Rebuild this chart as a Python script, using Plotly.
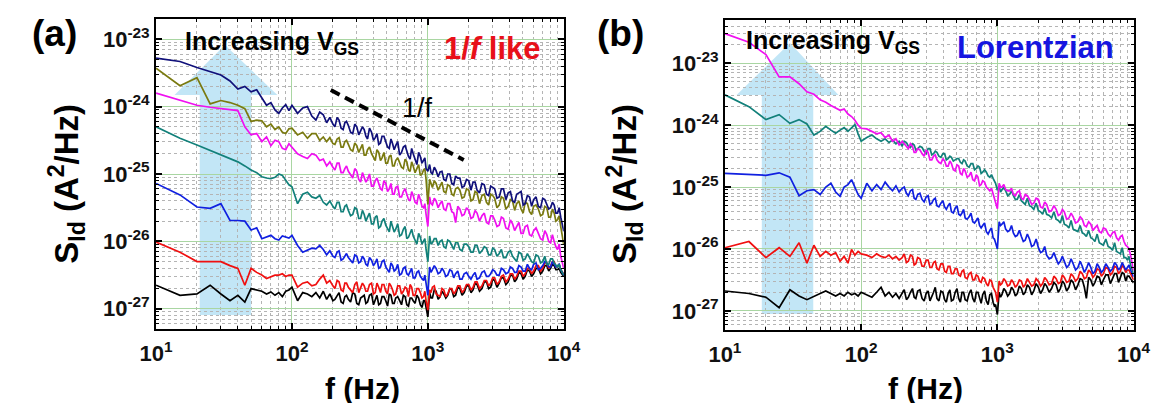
import plotly.graph_objects as go

# Frequency grid (Hz), shared by every spectrum
FREQ = [10, 15, 20, 25, 30, 35, 40, 45, 50, 55, 60, 65, 70, 75, 80, 85, 90, 95, 100,
        110, 120, 130, 140, 150, 160, 170, 180, 190, 200,
        215, 230, 245, 260, 280, 300, 320, 340, 360, 385, 410, 435, 460, 490, 520, 550, 580,
        620, 660, 700, 740, 780, 830, 880, 930, 970, 1000,
        1030, 1080, 1150, 1230, 1310, 1400, 1500, 1600, 1720, 1850, 2000, 2150, 2300, 2500,
        2700, 2900, 3100, 3350, 3600, 3900, 4200, 4500, 4850, 5200, 5600, 6000, 6500, 7000,
        7500, 8000, 8500, 9000, 9500, 10000]
# Extra frequencies in the dense (noisy) part of the spectra
FREQ2 = [207, 222, 238, 252, 270, 290, 310, 330, 350, 372,
         398, 422, 448, 475, 505, 535, 565, 600, 640, 680,
         720, 760, 805, 855, 905, 950,
         1055, 1115, 1190, 1270, 1355, 1450, 1550, 1660, 1785, 1925,
         2075, 2225, 2400, 2600, 2800, 3000, 3225, 3475, 3750, 4050,
         4350, 4675, 5025, 5400, 5800, 6250, 6750, 7250, 7750, 8250,
         8750, 9250]

# ---- Panel (a): log10(S_Id) ----
A_NAVY = [-23.28, -23.33, -23.42, -23.48, -23.53, -23.62, -23.74, -23.70, -23.78, -23.75, -23.86, -23.98, -23.94, -24.05, -24.10, -24.02, -23.97, -24.06, -23.98,
          -24.10, -24.02, -24.00, -24.14, -24.20, -24.08, -24.12, -24.24, -24.16, -24.26,
          -24.16, -24.32, -24.24, -24.28, -24.40, -24.30, -24.36, -24.34, -24.48, -24.38, -24.46, -24.56, -24.44, -24.52, -24.62, -24.55, -24.58, -24.72, -24.60, -24.66, -24.78, -24.70, -24.86, -24.74, -24.80, -24.92, -24.96,
          -24.86, -25.00, -24.95, -24.97, -25.08, -25.00, -25.14, -25.03, -25.06, -25.18, -25.10, -25.12, -25.24, -25.14, -25.30, -25.18, -25.22, -25.34, -25.22, -25.28, -25.40, -25.30, -25.26, -25.44, -25.34, -25.38, -25.48, -25.36, -25.44, -25.50, -25.46, -25.58, -25.64, -25.85]
A_NAVY_2 = [-24.30, -24.20, -24.34, -24.22, -24.38, -24.26, -24.42, -24.30, -24.44, -24.32,
            -24.50, -24.40, -24.54, -24.44, -24.60, -24.48, -24.64, -24.52, -24.68, -24.58,
            -24.74, -24.62, -24.80, -24.68, -24.84, -24.76,
            -24.98, -24.90, -25.04, -24.96, -25.10, -25.00, -25.16, -25.06, -25.20, -25.08,
            -25.24, -25.12, -25.28, -25.16, -25.32, -25.20, -25.36, -25.22, -25.38, -25.26,
            -25.42, -25.28, -25.46, -25.32, -25.48, -25.34, -25.50, -25.38, -25.52, -25.42,
            -25.58, -25.50]
A_OLIVE = [-23.43, -23.69, -23.57, -23.96, -23.91, -23.94, -23.98, -24.03, -24.22, -24.20, -24.21, -24.30, -24.26, -24.34, -24.30, -24.38, -24.40, -24.33, -24.32,
           -24.42, -24.38, -24.47, -24.40, -24.40, -24.50, -24.45, -24.52, -24.46, -24.55,
           -24.48, -24.60, -24.52, -24.56, -24.66, -24.58, -24.62, -24.72, -24.64, -24.70, -24.80, -24.68, -24.76, -24.84, -24.74, -24.88, -24.80, -24.84, -24.92, -24.82, -24.96, -24.88, -24.92, -25.02, -24.94, -25.08, -25.45,
           -25.08, -25.20, -25.14, -25.18, -25.26, -25.16, -25.30, -25.22, -25.24, -25.34, -25.24, -25.38, -25.28, -25.32, -25.42, -25.30, -25.36, -25.46, -25.36, -25.48, -25.40, -25.44, -25.52, -25.42, -25.56, -25.48, -25.52, -25.60, -25.50, -25.64, -25.58, -25.68, -25.78, -26.05]
A_OLIVE_2 = [-24.56, -24.46, -24.60, -24.50, -24.64, -24.54, -24.68, -24.56, -24.72, -24.60,
             -24.76, -24.64, -24.80, -24.68, -24.84, -24.72, -24.88, -24.76, -24.90, -24.78,
             -24.94, -24.82, -24.98, -24.86, -25.00, -24.92,
             -25.16, -25.10, -25.24, -25.12, -25.28, -25.18, -25.32, -25.20, -25.36, -25.22,
             -25.40, -25.26, -25.44, -25.30, -25.46, -25.32, -25.50, -25.34, -25.52, -25.38,
             -25.54, -25.40, -25.58, -25.44, -25.60, -25.46, -25.62, -25.48, -25.64, -25.52,
             -25.70, -25.62]
A_MAGENTA = [-23.80, -23.90, -23.98, -24.01, -24.03, -24.04, -24.06, -24.30, -24.42, -24.40, -24.52, -24.45, -24.58, -24.50, -24.52, -24.62, -24.64, -24.55, -24.60,
             -24.70, -24.74, -24.77, -24.70, -24.72, -24.80, -24.78, -24.88, -24.82, -24.90,
             -24.84, -24.98, -24.92, -24.96, -25.06, -24.96, -25.12, -25.04, -25.08, -25.18, -25.10, -25.14, -25.24, -25.14, -25.22, -25.30, -25.20, -25.34, -25.26, -25.30, -25.40, -25.32, -25.44, -25.38, -25.50, -25.60, -25.78,
             -25.34, -25.46, -25.40, -25.44, -25.52, -25.44, -25.56, -25.72, -25.52, -25.60, -25.54, -25.64, -25.58, -25.62, -25.72, -25.62, -25.68, -25.76, -25.66, -25.82, -25.74, -25.78, -25.88, -25.78, -25.90, -25.84, -25.88, -25.98, -25.90, -26.02, -26.00, -26.12, -26.22, -26.40]
A_MAGENTA_2 = [-24.94, -24.84, -24.98, -24.88, -25.02, -24.92, -25.08, -24.98, -25.12, -25.00,
               -25.18, -25.06, -25.22, -25.10, -25.26, -25.14, -25.30, -25.18, -25.34, -25.22,
               -25.38, -25.26, -25.42, -25.30, -25.48, -25.44,
               -25.44, -25.36, -25.50, -25.40, -25.54, -25.44, -25.58, -25.48, -25.62, -25.50,
               -25.66, -25.54, -25.70, -25.58, -25.74, -25.62, -25.78, -25.64, -25.80, -25.68,
               -25.84, -25.72, -25.88, -25.76, -25.92, -25.80, -25.96, -25.84, -26.00, -25.90,
               -26.08, -26.04]
A_TEAL = [-24.30, -24.47, -24.57, -24.65, -24.72, -24.78, -24.82, -24.88, -24.94, -24.98, -25.04, -25.06, -25.07, -25.05, -25.00, -25.02, -25.10, -25.16, -25.19,
          -25.44, -25.30, -25.27, -25.34, -25.36, -25.32, -25.42, -25.46, -25.40, -25.48,
          -25.42, -25.56, -25.48, -25.54, -25.60, -25.52, -25.66, -25.60, -25.64, -25.74, -25.64, -25.80, -25.70, -25.76, -25.86, -25.78, -25.82, -25.92, -25.82, -25.96, -25.88, -25.92, -26.04, -25.94, -26.00, -26.12, -26.30,
          -25.92, -26.02, -25.96, -26.00, -26.08, -25.98, -26.06, -26.02, -26.12, -26.04, -26.08, -26.16, -26.06, -26.14, -26.10, -26.20, -26.12, -26.18, -26.24, -26.16, -26.22, -26.30, -26.18, -26.26, -26.24, -26.32, -26.22, -26.30, -26.34, -26.26, -26.32, -26.38, -26.42, -26.50]
A_TEAL_2 = [-25.52, -25.42, -25.56, -25.46, -25.62, -25.50, -25.66, -25.54, -25.70, -25.58,
            -25.74, -25.62, -25.78, -25.66, -25.82, -25.70, -25.86, -25.74, -25.90, -25.78,
            -25.94, -25.82, -25.98, -25.88, -26.04, -25.96,
            -26.04, -25.96, -26.06, -25.98, -26.10, -26.00, -26.12, -26.02, -26.14, -26.04,
            -26.16, -26.06, -26.18, -26.08, -26.20, -26.10, -26.22, -26.12, -26.24, -26.14,
            -26.26, -26.16, -26.28, -26.18, -26.30, -26.20, -26.32, -26.22, -26.34, -26.26,
            -26.36, -26.34]
A_BLUE = [-25.14, -25.31, -25.49, -25.51, -25.44, -25.69, -25.69, -25.70, -25.83, -25.80, -25.96, -25.94, -25.91, -25.96, -25.98, -25.92, -25.93, -25.95, -25.91,
          -26.06, -26.16, -26.13, -26.10, -26.11, -26.06, -26.12, -26.20, -26.14, -26.22,
          -26.16, -26.28, -26.22, -26.24, -26.32, -26.22, -26.30, -26.26, -26.36, -26.28, -26.32, -26.40, -26.30, -26.38, -26.46, -26.36, -26.42, -26.50, -26.40, -26.48, -26.44, -26.54, -26.46, -26.52, -26.58, -26.64, -26.80,
          -26.38, -26.42, -26.40, -26.46, -26.44, -26.50, -26.44, -26.48, -26.56, -26.48, -26.52, -26.50, -26.56, -26.46, -26.52, -26.48, -26.44, -26.50, -26.42, -26.46, -26.40, -26.46, -26.38, -26.44, -26.40, -26.34, -26.42, -26.36, -26.32, -26.38, -26.34, -26.36, -26.42, -26.50]
A_BLUE_2 = [-26.24, -26.14, -26.26, -26.18, -26.28, -26.20, -26.32, -26.22, -26.34, -26.24,
            -26.36, -26.26, -26.38, -26.28, -26.42, -26.32, -26.44, -26.34, -26.48, -26.38,
            -26.50, -26.40, -26.54, -26.44, -26.56, -26.50,
            -26.46, -26.36, -26.48, -26.40, -26.52, -26.42, -26.54, -26.44, -26.56, -26.46,
            -26.56, -26.46, -26.54, -26.44, -26.52, -26.42, -26.50, -26.40, -26.48, -26.38,
            -26.46, -26.36, -26.44, -26.34, -26.42, -26.32, -26.40, -26.30, -26.38, -26.30,
            -26.38, -26.34]
A_RED = [-26.01, -26.16, -26.30, -26.30, -26.30, -26.36, -26.40, -26.65, -26.40, -26.46, -26.50, -26.55, -26.53, -26.50, -26.50, -26.48, -26.52, -26.50, -26.50,
         -26.68, -26.62, -26.60, -26.66, -26.64, -26.56, -26.50, -26.62, -26.58, -26.66,
         -26.58, -26.72, -26.62, -26.68, -26.76, -26.60, -26.70, -26.66, -26.74, -26.62, -26.76, -26.68, -26.64, -26.74, -26.62, -26.72, -26.78, -26.66, -26.74, -26.70, -26.64, -26.80, -26.70, -26.76, -26.82, -26.88, -27.02,
         -26.72, -26.68, -26.78, -26.82, -26.72, -26.78, -26.70, -26.74, -26.66, -26.72, -26.64, -26.68, -26.60, -26.66, -26.58, -26.62, -26.54, -26.60, -26.50, -26.56, -26.48, -26.52, -26.44, -26.48, -26.40, -26.44, -26.36, -26.40, -26.32, -26.36, -26.30, -26.38, -26.42, -26.48]
A_RED_2 = [-26.70, -26.60, -26.74, -26.62, -26.72, -26.64, -26.76, -26.62, -26.74, -26.64,
           -26.78, -26.62, -26.76, -26.64, -26.78, -26.66, -26.80, -26.66, -26.78, -26.68,
           -26.82, -26.68, -26.80, -26.70, -26.84, -26.74,
           -26.76, -26.66, -26.80, -26.70, -26.82, -26.70, -26.78, -26.66, -26.76, -26.64,
           -26.72, -26.60, -26.70, -26.58, -26.66, -26.54, -26.64, -26.52, -26.60, -26.48,
           -26.56, -26.44, -26.52, -26.40, -26.48, -26.36, -26.44, -26.32, -26.40, -26.30,
           -26.38, -26.34]
A_BLACK = [-26.65, -26.80, -26.78, -26.65, -26.78, -26.88, -26.80, -26.90, -26.70, -26.72, -26.74, -26.78, -26.75, -26.80, -26.76, -26.82, -26.74, -26.72, -26.68,
           -26.88, -26.76, -26.78, -26.82, -26.76, -26.84, -26.74, -26.86, -26.78, -26.88,
           -26.80, -26.90, -26.82, -26.86, -26.76, -26.92, -26.84, -26.80, -26.90, -26.78, -26.88, -26.94, -26.82, -26.88, -26.78, -26.92, -26.84, -26.88, -26.80, -26.94, -26.84, -26.88, -26.80, -26.94, -26.88, -26.98, -27.12,
           -26.76, -26.84, -26.74, -26.82, -26.78, -26.80, -26.72, -26.80, -26.70, -26.76, -26.66, -26.72, -26.64, -26.70, -26.60, -26.68, -26.58, -26.62, -26.54, -26.60, -26.50, -26.56, -26.48, -26.52, -26.44, -26.48, -26.40, -26.44, -26.36, -26.40, -26.36, -26.42, -26.46, -26.52]
A_BLACK_2 = [-26.86, -26.76, -26.92, -26.80, -26.90, -26.78, -26.94, -26.82, -26.92, -26.80,
             -26.94, -26.80, -26.92, -26.82, -26.96, -26.80, -26.92, -26.82, -26.94, -26.82,
             -26.96, -26.84, -26.92, -26.84, -26.98, -26.88,
             -26.84, -26.72, -26.86, -26.74, -26.84, -26.70, -26.82, -26.68, -26.80, -26.66,
             -26.76, -26.62, -26.74, -26.60, -26.70, -26.56, -26.68, -26.54, -26.64, -26.50,
             -26.60, -26.46, -26.56, -26.42, -26.52, -26.40, -26.48, -26.36, -26.44, -26.34,
             -26.42, -26.40]

# ---- Panel (b): log10(S_Id) ----
B_MAGENTA = [-22.52, -22.66, -22.86, -23.22, -23.22, -23.33, -23.46, -23.50, -23.59, -23.63, -23.68, -23.72, -23.76, -23.74, -23.82, -23.86, -23.92, -24.00, -24.05,
             -24.06, -24.10, -24.14, -24.12, -24.20, -24.16, -24.26, -24.22, -24.32, -24.26,
             -24.34, -24.30, -24.44, -24.38, -24.46, -24.40, -24.56, -24.50, -24.56, -24.62, -24.58, -24.66, -24.62, -24.74, -24.66, -24.80, -24.74, -24.82, -24.88, -24.80, -24.98, -24.90, -25.00, -25.06, -25.12, -25.24, -25.35,
             -24.94, -25.00, -25.04, -25.06, -25.12, -25.08, -25.18, -25.12, -25.20, -25.26, -25.20, -25.34, -25.28, -25.38, -25.36, -25.44, -25.40, -25.50, -25.48, -25.56, -25.52, -25.64, -25.60, -25.66, -25.72, -25.66, -25.76, -25.74, -25.82, -25.80, -25.88, -25.96, -26.10, -26.35]
B_MAGENTA_2 = [-24.30, -24.38, -24.34, -24.44, -24.40, -24.50, -24.44, -24.56, -24.48, -24.60,
               -24.54, -24.66, -24.58, -24.72, -24.64, -24.78, -24.70, -24.84, -24.76, -24.90,
               -24.84, -24.96, -24.92, -25.04, -25.02, -25.16,
               -25.00, -24.96, -25.06, -25.02, -25.14, -25.06, -25.20, -25.14, -25.28, -25.18,
               -25.32, -25.24, -25.40, -25.30, -25.46, -25.36, -25.52, -25.42, -25.58, -25.48,
               -25.62, -25.56, -25.70, -25.62, -25.74, -25.68, -25.80, -25.72, -25.86, -25.78,
               -25.94, -26.00]
B_TEAL = [-23.51, -23.70, -23.91, -23.83, -23.97, -23.91, -23.98, -24.16, -24.10, -24.02, -24.08, -24.13, -24.08, -24.04, -24.10, -24.04, -23.99, -24.14, -24.26,
          -24.20, -24.16, -24.22, -24.26, -24.22, -24.28, -24.24, -24.30, -24.26, -24.34,
          -24.28, -24.36, -24.32, -24.38, -24.36, -24.46, -24.38, -24.46, -24.44, -24.52, -24.46, -24.54, -24.52, -24.56, -24.54, -24.62, -24.58, -24.68, -24.62, -24.70, -24.68, -24.76, -24.76, -24.84, -24.86, -24.94, -25.05,
          -24.98, -25.04, -25.06, -25.12, -25.14, -25.20, -25.22, -25.28, -25.30, -25.36, -25.38, -25.44, -25.44, -25.50, -25.52, -25.58, -25.60, -25.66, -25.68, -25.72, -25.74, -25.80, -25.82, -25.88, -25.90, -25.94, -25.96, -26.02, -26.04, -26.08, -26.14, -26.18, -26.26, -26.40]
B_TEAL_2 = [-24.26, -24.34, -24.30, -24.40, -24.34, -24.42, -24.38, -24.48, -24.42, -24.50,
            -24.46, -24.56, -24.50, -24.58, -24.54, -24.60, -24.56, -24.66, -24.62, -24.72,
            -24.66, -24.78, -24.72, -24.82, -24.80, -24.90,
            -25.08, -25.00, -25.14, -25.06, -25.20, -25.12, -25.26, -25.18, -25.32, -25.26,
            -25.40, -25.34, -25.46, -25.40, -25.54, -25.46, -25.62, -25.54, -25.70, -25.62,
            -25.76, -25.70, -25.84, -25.76, -25.92, -25.84, -25.98, -25.90, -26.06, -25.98,
            -26.14, -26.12]
B_BLUE = [-24.78, -24.80, -24.81, -24.77, -24.84, -25.14, -25.06, -25.04, -25.12, -25.00, -24.94, -25.08, -25.15, -25.00, -24.96, -24.88, -25.02, -25.12, -25.18,
          -24.94, -25.06, -24.96, -25.04, -24.92, -25.00, -25.06, -24.98, -25.08, -25.02,
          -25.10, -25.06, -25.18, -25.12, -25.20, -25.16, -25.28, -25.20, -25.30, -25.26, -25.32, -25.30, -25.40, -25.34, -25.44, -25.42, -25.50, -25.48, -25.56, -25.54, -25.62, -25.62, -25.72, -25.70, -25.82, -25.90, -26.00,
          -25.56, -25.60, -25.68, -25.70, -25.74, -25.78, -25.80, -25.86, -25.84, -25.94, -25.98, -26.04, -26.10, -26.14, -26.16, -26.20, -26.20, -26.26, -26.24, -26.30, -26.28, -26.32, -26.30, -26.36, -26.30, -26.34, -26.30, -26.32, -26.26, -26.30, -26.28, -26.30, -26.34, -26.45]
B_BLUE_2 = [-25.00, -25.14, -25.04, -25.20, -25.10, -25.24, -25.14, -25.26, -25.18, -25.32,
            -25.22, -25.36, -25.26, -25.42, -25.30, -25.46, -25.36, -25.52, -25.42, -25.58,
            -25.50, -25.66, -25.58, -25.76, -25.66, -25.84,
            -25.62, -25.56, -25.72, -25.62, -25.80, -25.70, -25.88, -25.76, -25.96, -25.84,
            -26.06, -25.96, -26.16, -26.06, -26.24, -26.12, -26.30, -26.16, -26.34, -26.20,
            -26.38, -26.22, -26.40, -26.24, -26.38, -26.24, -26.36, -26.22, -26.34, -26.22,
            -26.34, -26.26]
B_RED = [-25.98, -25.88, -26.14, -25.98, -26.12, -25.90, -26.23, -25.94, -26.12, -26.04, -26.10, -26.06, -26.20, -26.12, -26.23, -26.01, -26.10, -26.04, -26.08,
         -26.10, -26.14, -26.08, -26.12, -26.14, -26.10, -26.16, -26.12, -26.18, -26.14,
         -26.22, -26.10, -26.26, -26.14, -26.28, -26.18, -26.30, -26.22, -26.32, -26.24, -26.36, -26.28, -26.40, -26.32, -26.42, -26.36, -26.46, -26.40, -26.50, -26.42, -26.52, -26.46, -26.56, -26.50, -26.62, -26.70, -26.86,
         -26.52, -26.56, -26.52, -26.58, -26.54, -26.58, -26.52, -26.58, -26.54, -26.58, -26.52, -26.56, -26.50, -26.56, -26.48, -26.54, -26.46, -26.52, -26.44, -26.48, -26.40, -26.46, -26.38, -26.42, -26.34, -26.40, -26.32, -26.38, -26.30, -26.36, -26.30, -26.34, -26.40, -26.50]
B_RED_2 = [-26.08, -26.20, -26.12, -26.24, -26.16, -26.28, -26.18, -26.30, -26.20, -26.34,
           -26.24, -26.38, -26.28, -26.40, -26.32, -26.44, -26.34, -26.48, -26.38, -26.50,
           -26.44, -26.54, -26.48, -26.60, -26.52, -26.66,
           -26.58, -26.48, -26.60, -26.50, -26.62, -26.50, -26.62, -26.48, -26.60, -26.48,
           -26.60, -26.46, -26.58, -26.44, -26.56, -26.42, -26.54, -26.40, -26.52, -26.36,
           -26.48, -26.34, -26.46, -26.32, -26.44, -26.30, -26.42, -26.28, -26.40, -26.26,
           -26.38, -26.34]
B_BLACK = [-26.68, -26.72, -26.78, -26.95, -26.66, -26.76, -26.82, -26.76, -26.72, -26.68, -26.72, -26.76, -26.72, -26.76, -26.70, -26.74, -26.72, -26.76, -26.70,
           -26.74, -26.78, -26.70, -26.62, -26.76, -26.70, -26.78, -26.72, -26.80, -26.72,
           -26.82, -26.70, -26.78, -26.68, -26.80, -26.72, -26.84, -26.70, -26.80, -26.68, -26.82, -26.72, -26.84, -26.70, -26.80, -26.70, -26.82, -26.72, -26.80, -26.70, -26.82, -26.74, -26.84, -26.74, -26.86, -26.90, -27.06,
           -26.70, -26.74, -26.68, -26.72, -26.66, -26.72, -26.64, -26.70, -26.62, -26.68, -26.62, -26.66, -26.60, -26.64, -26.58, -26.64, -26.56, -26.62, -26.54, -26.58, -26.50, -26.80, -26.50, -26.54, -26.46, -26.50, -26.42, -26.48, -26.40, -26.46, -26.40, -26.44, -26.48, -26.55]
B_BLACK_2 = [-26.66, -26.78, -26.64, -26.80, -26.66, -26.84, -26.68, -26.78, -26.62, -26.84,
             -26.70, -26.86, -26.66, -26.82, -26.64, -26.86, -26.70, -26.84, -26.66, -26.86,
             -26.70, -26.88, -26.68, -26.90, -26.72, -26.92,
             -26.78, -26.64, -26.76, -26.62, -26.76, -26.60, -26.74, -26.58, -26.74, -26.56,
             -26.72, -26.56, -26.70, -26.54, -26.70, -26.52, -26.68, -26.50, -26.66, -26.48,
             -26.62, -26.46, -26.60, -26.44, -26.58, -26.42, -26.56, -26.40, -26.54, -26.38,
             -26.52, -26.44]

# Axis tick labels
X_TICKVALS = [10, 100, 1000, 10000]
X_TICKTEXT = ["<b>10<sup>1</sup></b>", "<b>10<sup>2</sup></b>", "<b>10<sup>3</sup></b>", "<b>10<sup>4</sup></b>"]
Y_TICKVALS = [1e-27, 1e-26, 1e-25, 1e-24, 1e-23]
Y_TICKTEXT = ["<b>10<sup>-27</sup></b>", "<b>10<sup>-26</sup></b>", "<b>10<sup>-25</sup></b>",
              "<b>10<sup>-24</sup></b>", "<b>10<sup>-23</sup></b>"]

C_NAVY, C_OLIVE, C_MAG, C_TEAL, C_BLUE, C_RED, C_BLACK = (
    "#10107a", "#7a7a10", "#f010f0", "#12807a", "#1020e0", "#f01010", "#000000")

W, H = 1163, 403
FONT = "Liberation Sans, Arial, sans-serif"

def px(x):
    return x / W

def py(y):
    return 1 - y / H

def merged(v1, v2):
    assert len(v1) == len(FREQ) and len(v2) == len(FREQ2)
    pts = sorted(zip(FREQ + FREQ2, v1 + v2))
    return [p[0] for p in pts], [10 ** p[1] for p in pts]

fig = go.Figure()

panel_a = [(A_BLACK, A_BLACK_2, C_BLACK), (A_RED, A_RED_2, C_RED), (A_BLUE, A_BLUE_2, C_BLUE),
           (A_TEAL, A_TEAL_2, C_TEAL), (A_MAGENTA, A_MAGENTA_2, C_MAG),
           (A_OLIVE, A_OLIVE_2, C_OLIVE), (A_NAVY, A_NAVY_2, C_NAVY)]
panel_b = [(B_BLACK, B_BLACK_2, C_BLACK), (B_RED, B_RED_2, C_RED), (B_BLUE, B_BLUE_2, C_BLUE),
           (B_TEAL, B_TEAL_2, C_TEAL), (B_MAGENTA, B_MAGENTA_2, C_MAG)]

for v1, v2, col in panel_a:
    xs, ys = merged(v1, v2)
    fig.add_trace(go.Scatter(x=xs, y=ys, mode="lines", line=dict(color=col, width=1.7),
                             showlegend=False, xaxis="x", yaxis="y"))
for v1, v2, col in panel_b:
    xs, ys = merged(v1, v2)
    fig.add_trace(go.Scatter(x=xs, y=ys, mode="lines", line=dict(color=col, width=1.7),
                             showlegend=False, xaxis="x2", yaxis="y2"))

grid_major = "#a9d6a2"
minor = dict(dtick="D1", showgrid=True, gridcolor="#b4b4b4", griddash="dot", gridwidth=1,
             ticks="inside", ticklen=3, tickcolor="black", tickwidth=1)
tickfont = dict(family=FONT, size=22, color="#111111")

def xaxis_cfg(domain, anchor):
    return dict(type="log", range=[1, 4], domain=domain, anchor=anchor,
                tickvals=X_TICKVALS, ticktext=X_TICKTEXT, tickfont=tickfont,
                showgrid=True, gridcolor=grid_major, gridwidth=1.2,
                ticks="inside", ticklen=6, tickwidth=1.5, tickcolor="black",
                showline=True, linecolor="black", linewidth=2, mirror="ticks",
                minor=minor, zeroline=False, ticklabelstandoff=4)

def yaxis_cfg(domain, anchor, rng):
    return dict(type="log", range=rng, domain=domain, anchor=anchor,
                tickvals=Y_TICKVALS, ticktext=Y_TICKTEXT, tickfont=tickfont,
                showgrid=True, gridcolor=grid_major, gridwidth=1.2,
                ticks="inside", ticklen=6, tickwidth=1.5, tickcolor="black",
                showline=True, linecolor="black", linewidth=2, mirror="ticks",
                minor=minor, zeroline=False)

fig.update_layout(
    width=W, height=H, margin=dict(l=0, r=0, t=0, b=0),
    paper_bgcolor="white", plot_bgcolor="white",
    xaxis=xaxis_cfg([px(135), px(555)], "y"),
    yaxis=yaxis_cfg([py(321), py(11)], "x", [-27.30, -22.70]),
    xaxis2=xaxis_cfg([px(721), px(1142)], "y2"),
    yaxis2=yaxis_cfg([py(322), py(12)], "x2", [-27.31, -22.30]),
)

def arrow_path(xl, xr, bl, br, tipx, tipy, basey, bottom):
    pts = [(xl, bottom), (xl, basey), (bl, basey), (tipx, tipy), (br, basey), (xr, basey), (xr, bottom)]
    return "M " + " L ".join(f"{px(a):.5f},{py(b):.5f}" for a, b in pts) + " Z"

arrow_fill = "rgba(120,200,235,0.45)"
fig.add_shape(type="path", xref="paper", yref="paper", layer="below",
              path=arrow_path(180, 233, 154, 260, 206, 37, 87, 307),
              fillcolor=arrow_fill, line=dict(width=0))
fig.add_shape(type="path", xref="paper", yref="paper", layer="below",
              path=arrow_path(759, 812, 733, 838, 788, 35, 87, 306),
              fillcolor=arrow_fill, line=dict(width=0))

# 1/f guide line
fig.add_shape(type="line", xref="paper", yref="paper",
              x0=px(315), y0=py(82), x1=px(452), y1=py(152),
              line=dict(color="black", width=4, dash="10px,6px"))

def ann(text, x, y, size, color="black", xanchor="left", angle=0):
    fig.add_annotation(text=text, x=px(x), y=py(y), xref="paper", yref="paper",
                       xanchor=xanchor, yanchor="middle", showarrow=False, textangle=angle,
                       font=dict(family=FONT, size=size, color=color))

ann("<b>(a)</b>", 5, 26, 37)
ann("<b>(b)</b>", 587, 26, 37)
ann("<b>Increasing V<sub>GS</sub></b>", 163, 35, 25)
ann("<b>Increasing V<sub>GS</sub></b>", 741, 34, 25)
ann("<b>1/<i>f</i> like</b>", 430, 40, 31, color="#e8101a")
ann("<b>Lorentzian</b>", 958, 39, 31, color="#1515e0")
ann("1/f", 386, 100, 27)
ann("<b>S<sub>Id</sub> (A<sup>2</sup>/Hz)</b>", 42, 176, 33, xanchor="center", angle=-90)
ann("<b>S<sub>Id</sub> (A<sup>2</sup>/Hz)</b>", 617, 176, 33, xanchor="center", angle=-90)
ann("<b>f (Hz)</b>", 348, 380, 30, xanchor="center")
ann("<b>f (Hz)</b>", 928, 380, 30, xanchor="center")

fig.write_html("out.html")
